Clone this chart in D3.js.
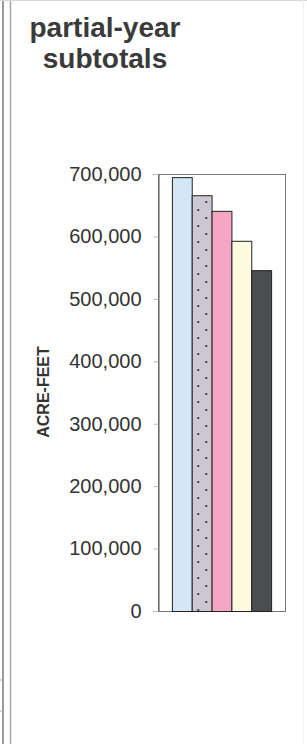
<!DOCTYPE html>
<html>
<head>
<meta charset="utf-8">
<script src="https://cdn.jsdelivr.net/npm/d3@7"></script>
<style>
  body { margin: 0; background: #fff; }
  svg { display: block; font-family: "Liberation Sans", Arial, sans-serif; }
</style>
</head>
<body>
<div id="chart"></div>
<script>
// bar values (acre-feet)
const categories = ["s1", "s2", "s3", "s4", "s5"];
const values = [695000, 666000, 641000, 593000, 546000];
const fills = ["#d3e7f6", "url(#dots)", "#f6a6c3", "#fdfbe0", "#4b4e4e"];
const yTicks = [0, 100000, 200000, 300000, 400000, 500000, 600000, 700000];
const titleLines = ["partial-year", "subtotals"];

const W = 307, H = 744;
const margin = {top: 174, right: 22, bottom: 133, left: 158};
const width = W - margin.left - margin.right;
const height = H - margin.top - margin.bottom;

const svg = d3.select("#chart").append("svg")
    .attr("width", W)
    .attr("height", H);

// page frame bits
svg.append("line").attr("x1", 3).attr("x2", 3).attr("y1", 0).attr("y2", H)
    .attr("stroke", "#9a9a9a").attr("stroke-width", 2);
svg.append("line").attr("x1", 10.5).attr("x2", 10.5).attr("y1", 0).attr("y2", H)
    .attr("stroke", "#a8a8a8").attr("stroke-width", 1.5);
svg.append("line").attr("x1", 0).attr("x2", W).attr("y1", 0.5).attr("y2", 0.5)
    .attr("stroke", "#d8d8d8");
svg.append("line").attr("x1", 303.5).attr("x2", 303.5).attr("y1", 0).attr("y2", H)
    .attr("stroke", "#f0f0f0");
[680, 711].forEach(y => {
    svg.append("line").attr("x1", 0).attr("x2", 3).attr("y1", y).attr("y2", y)
        .attr("stroke", "#aaa");
});

// title
svg.append("text")
    .attr("x", 105)
    .attr("text-anchor", "middle")
    .attr("font-weight", "bold")
    .attr("font-size", 28)
    .attr("fill", "#3a3a3a")
    .selectAll("tspan")
    .data(titleLines)
    .join("tspan")
    .attr("x", 105)
    .attr("y", (d, i) => 37 + i * 31)
    .text(d => d);

const g = svg.append("g")
    .attr("transform", `translate(${margin.left},${margin.top})`);

const xScale = d3.scaleBand()
    .domain(categories)
    .range([0, width])
    .paddingInner(0)
    .paddingOuter(0.7);

const yScale = d3.scaleLinear()
    .domain([0, 700000])
    .range([height, 0]);

// dotted fill for the second bar, lined up with that bar
const defs = svg.append("defs");
const pat = defs.append("pattern")
    .attr("id", "dots")
    .attr("patternUnits", "userSpaceOnUse")
    .attr("x", xScale(categories[1]))
    .attr("y", 0)
    .attr("width", 40).attr("height", 16);
pat.append("rect").attr("width", 40).attr("height", 16).attr("fill", "#cdc8d0");
pat.append("circle").attr("cx", 6.5).attr("cy", 4).attr("r", 1).attr("fill", "#1a1a1a");
pat.append("circle").attr("cx", 14.5).attr("cy", 12).attr("r", 1).attr("fill", "#1a1a1a");

// plot frame
g.append("rect")
    .attr("x", 0.5).attr("y", 0.5)
    .attr("width", width).attr("height", height)
    .attr("fill", "none")
    .attr("stroke", "#777");

// bars
g.selectAll(".bar")
    .data(categories)
    .join("rect")
    .attr("class", "bar")
    .attr("x", d => xScale(d) + 0.5)
    .attr("y", (d, i) => yScale(values[i]) + 0.5)
    .attr("width", xScale.bandwidth())
    .attr("height", (d, i) => height - yScale(values[i]))
    .attr("fill", (d, i) => fills[i])
    .attr("stroke", "#222")
    .attr("stroke-width", 1);

// y axis
const yAxis = g.append("g")
    .attr("transform", "translate(0.5,0)")
    .call(d3.axisLeft(yScale)
        .tickValues(yTicks)
        .tickSize(5)
        .tickPadding(12)
        .tickFormat(d3.format(",")));
yAxis.select(".domain").attr("stroke", "#555");
yAxis.selectAll(".tick line").attr("stroke", "#bbb");
yAxis.selectAll(".tick text")
    .attr("font-size", 20)
    .attr("fill", "#333")
    .attr("font-family", "Liberation Sans, Arial, sans-serif");

// y axis title
svg.append("text")
    .attr("transform", `translate(49,392) rotate(-90)`)
    .attr("text-anchor", "middle")
    .attr("font-weight", "bold")
    .attr("font-size", 16)
    .attr("fill", "#333")
    .text("ACRE-FEET");
</script>
</body>
</html>
